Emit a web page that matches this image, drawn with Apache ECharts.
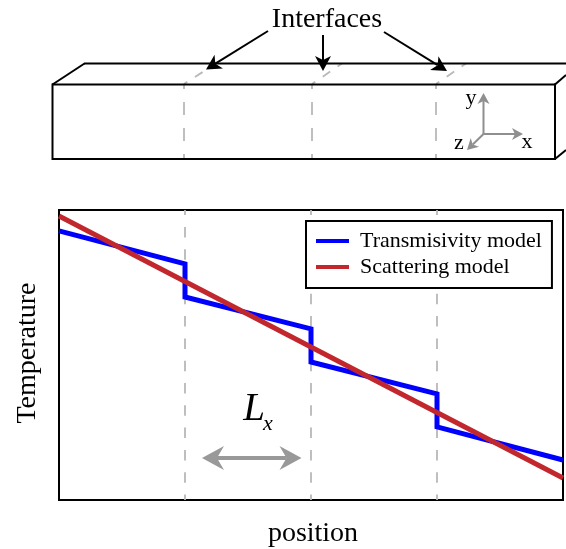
<!DOCTYPE html>
<html>
<head>
<meta charset="utf-8">
<style>html,body{margin:0;padding:0;background:#fff}#c{width:566px;height:549px}</style>
<script src="https://cdn.jsdelivr.net/npm/echarts@6/dist/echarts.min.js"></script>
</head>
<body>
<div id="c"></div>
<script>
const interfacePositions = [1, 2, 3];
const transmisivityPositions = [0, 1, 1, 2, 2, 3, 3, 4];
const transmisivityTemps = [92.8, 81.4, 70.0, 59.0, 47.6, 36.6, 25.2, 13.8];
const scatteringPositions = [0, 4];
const scatteringTemps = [97.9, 7.6];
const FONT = '"Liberation Serif", "Times New Roman", serif';
const GRAY = '#8f8f8f', DASH = '#b8b8b8';

function zip(a, b) { return a.map((v, i) => [v, b[i]]); }

function line(x1, y1, x2, y2, stroke, width, dash, offset) {
  return { type: 'line', silent: true, z: 5,
    shape: { x1, y1, x2, y2 },
    style: { stroke, lineWidth: width, lineDash: dash || null, lineDashOffset: offset || 0, lineCap: 'butt' } };
}
function arrow(x1, y1, x2, y2, color, width, len, half, notch) {
  const d = Math.hypot(x2 - x1, y2 - y1), ux = (x2 - x1) / d, uy = (y2 - y1) / d;
  const bx = x2 - ux * len, by = y2 - uy * len, nx = x2 - ux * notch, ny = y2 - uy * notch;
  return [
    line(x1, y1, nx, ny, color, width),
    { type: 'polygon', silent: true, z: 6,
      shape: { points: [[x2, y2], [bx - uy * half, by + ux * half], [nx, ny], [bx + uy * half, by - ux * half]] },
      style: { fill: color } }
  ];
}
function label(text, x, y, size, extra) {
  return { type: 'text', silent: true, z: 7, x, y,
    style: Object.assign({ text, fontFamily: FONT, fontSize: size, fill: '#000', align: 'center', verticalAlign: 'middle' }, extra || {}) };
}

const boxDash = [13, 13], topDash = [9, 9], plotDash = [10.5, 11.8];
const K = 2;
const diagram = [
  line(184, 159, 184, 84, DASH, 1.8, boxDash, 8),
  line(312, 159, 312, 84, DASH, 1.8, boxDash, 8),
  line(436, 159, 436, 84, DASH, 1.8, boxDash, 8),
  line(184, 84, 216, 63.5, DASH, 1.8, topDash, 5),
  line(312, 84, 342, 63.5, DASH, 1.8, topDash, 5),
  line(436, 84, 466, 63.5, DASH, 1.8, topDash, 5),
  line(52.5, 84.5, 555, 84.5, '#000', K),
  line(52.5, 159, 555, 159, '#000', K),
  line(52.5, 83.5, 52.5, 160, '#000', K),
  line(555, 83.5, 555, 160, '#000', K),
  line(52.5, 84.5, 84.5, 63.5, '#000', K),
  line(84, 63.5, 566, 63.5, '#000', K),
  line(555, 84.5, 566, 75, '#000', K),
  line(555, 159, 566, 150, '#000', K),
  ...arrow(268, 31, 206, 69.5, '#000', 2, 15, 8, 11),
  ...arrow(323, 35, 323, 71, '#000', 2, 15, 8, 11),
  ...arrow(384, 32, 447, 71, '#000', 2, 15, 8, 11),
  ...arrow(483.5, 134, 483.5, 93, GRAY, 2, 11, 6, 8),
  ...arrow(483.5, 134, 523, 134, GRAY, 2, 11, 6, 8),
  ...arrow(483.5, 134, 467, 150, GRAY, 2, 11, 6, 8),
  label('Interfaces', 327, 20, 28),
  label('y', 471, 98, 22),
  label('x', 527, 142, 22),
  label('z', 459, 143, 22),
  ...arrow(252, 458, 202, 458, '#999', 4, 22, 12, 15),
  ...arrow(252, 458, 301.5, 458, '#999', 4, 22, 12, 15),
  label('L', 254, 410, 39, { fontStyle: 'italic' }),
  label('x', 268, 424, 22, { fontStyle: 'italic' })
];

const chart = echarts.init(document.getElementById('c'), null, { renderer: 'canvas' });
chart.setOption({
  animation: false,
  backgroundColor: '#fff',
  grid: { left: 59, top: 210, width: 504, height: 290, outerBoundsMode: 'none', containLabel: false, show: true, borderColor: '#000', borderWidth: 2, backgroundColor: 'transparent' },
  xAxis: {
    type: 'value', min: 0, max: 4, interval: 1,
    name: 'position', nameLocation: 'middle', nameGap: 20,
    nameTextStyle: { fontFamily: FONT, fontSize: 28, color: '#000', padding: [0, 0, 0, 4] },
    axisLine: { show: false }, axisTick: { show: false }, axisLabel: { show: false }, splitLine: { show: false }
  },
  yAxis: {
    type: 'value', min: 0, max: 100, interval: 25,
    name: 'Temperature', nameLocation: 'middle', nameGap: 17,
    nameTextStyle: { fontFamily: FONT, fontSize: 28, color: '#000', padding: [0, 0, 0, 4] },
    axisLine: { show: false }, axisTick: { show: false }, axisLabel: { show: false }, splitLine: { show: false }
  },
  legend: {
    left: 306, top: 221, orient: 'vertical', itemWidth: 33, itemHeight: 4, itemGap: 4,
    padding: [9, 10, 10, 10], borderColor: '#000', borderWidth: 2, backgroundColor: '#fff', z: 20,
    icon: 'rect',
    textStyle: { fontFamily: FONT, fontSize: 22, color: '#000', padding: [0, 0, 0, 6] },
    data: ['Transmisivity model', 'Scattering model']
  },
  series: [
    {
      name: 'Transmisivity model', type: 'line', showSymbol: false, silent: true, z: 3,
      data: zip(transmisivityPositions, transmisivityTemps),
      lineStyle: { color: '#0000ff', width: 5, join: 'miter' }, itemStyle: { color: '#0000ff' },
      markLine: {
        silent: true, symbol: 'none', label: { show: false }, z: 1,
        lineStyle: { color: DASH, type: plotDash, dashOffset: 5, width: 1.8 },
        data: interfacePositions.map(p => ({ xAxis: p }))
      }
    },
    {
      name: 'Scattering model', type: 'line', showSymbol: false, silent: true, z: 4,
      data: zip(scatteringPositions, scatteringTemps),
      lineStyle: { color: '#c1272d', width: 5 }, itemStyle: { color: '#c1272d' }
    }
  ],
  graphic: diagram
});
</script>
</body>
</html>
